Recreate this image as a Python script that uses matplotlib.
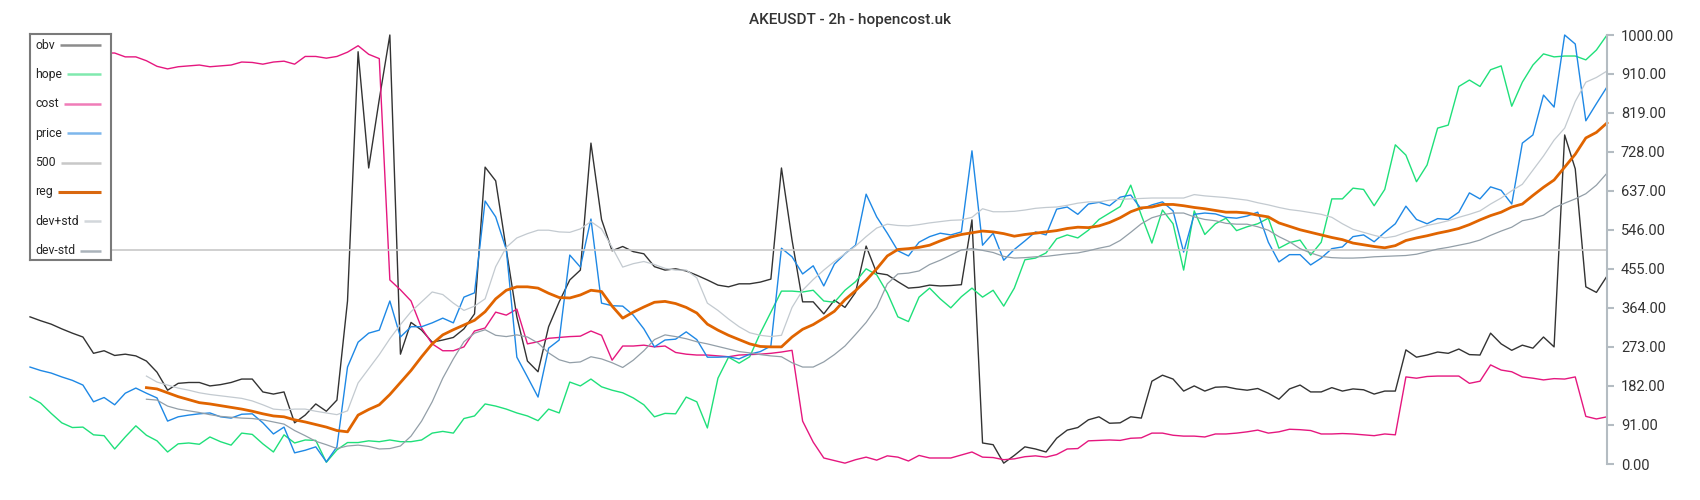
import numpy as np
import matplotlib
matplotlib.use('Agg')
import matplotlib.pyplot as plt

plt.rcParams['font.family'] = ['Roboto', 'DejaVu Sans']

# values, 0..1000 scale, 150 samples
obv = [343, 334, 326, 315, 305, 296, 258, 264, 253, 256,
       252, 240, 214, 172, 188, 190, 190, 182, 185, 190,
       198, 198, 168, 163, 168, 96, 114, 140, 123, 149,
       380, 961, 690, 850, 1000, 256, 330, 312, 284, 289,
       295, 315, 350, 692, 660, 500, 343, 240, 215, 320,
       378, 429, 452, 748, 570, 497, 507, 495, 490, 460,
       452, 455, 450, 440, 429, 417, 413, 420, 420, 424,
       431, 690, 522, 378, 378, 350, 382, 365, 400, 508,
       445, 441, 425, 410, 412, 417, 415, 416, 418, 569,
       49, 45, 2, 20, 40, 35, 28, 60, 79, 85,
       103, 110, 95, 96, 110, 107, 193, 207, 198, 170,
       182, 170, 179, 180, 175, 172, 176, 165, 151, 175,
       184, 168, 168, 178, 170, 175, 173, 163, 170, 170,
       266, 249, 254, 261, 258, 268, 255, 254, 305, 280,
       265, 277, 270, 296, 273, 767, 688, 413, 400, 438]

hope = [156, 142, 118, 96, 85, 86, 68, 66, 35, 63,
        89, 67, 54, 28, 47, 49, 46, 63, 52, 44,
        72, 69, 47, 28, 68, 49, 56, 55, 4, 33,
        50, 50, 54, 52, 56, 52, 52, 56, 72, 76,
        72, 106, 112, 140, 135, 128, 119, 112, 101, 128,
        119, 191, 182, 198, 180, 172, 166, 154, 138, 110,
        118, 117, 156, 145, 84, 200, 249, 235, 250, 305,
        354, 403, 403, 401, 405, 380, 377, 405, 425, 455,
        441, 399, 343, 332, 389, 410, 385, 364, 390, 410,
        389, 405, 368, 410, 476, 480, 492, 525, 534, 527,
        545, 570, 585, 600, 650, 580, 515, 592, 560, 452,
        590, 535, 560, 573, 544, 553, 560, 573, 503, 516,
        522, 487, 517, 618, 618, 643, 640, 602, 640, 744,
        720, 658, 697, 783, 790, 880, 895, 880, 919, 928,
        834, 890, 930, 956, 949, 951, 951, 942, 965, 1000]

cost = [955, 962, 958, 950, 955, 960, 952, 958, 958, 949,
        949, 940, 927, 921, 926, 928, 930, 926, 928, 930,
        937, 936, 932, 937, 939, 932, 950, 950, 946, 950,
        960, 975, 955, 945, 429, 406, 380, 317, 280, 264,
        264, 273, 310, 317, 354, 347, 361, 280, 285, 293,
        295, 297, 298, 310, 300, 242, 275, 275, 277, 273,
        275, 260, 256, 254, 254, 252, 250, 254, 255, 256,
        258, 261, 265, 100, 51, 14, 8, 2, 10, 16,
        9, 19, 16, 7, 20, 14, 14, 14, 21, 28,
        16, 15, 10, 12, 17, 19, 16, 22, 35, 36,
        54, 55, 56, 55, 60, 61, 72, 72, 67, 65,
        65, 63, 70, 70, 72, 75, 79, 72, 75, 81,
        80, 78, 70, 70, 71, 70, 68, 66, 70, 68,
        203, 200, 204, 205, 205, 205, 188, 193, 231, 219,
        215, 203, 200, 196, 199, 198, 203, 111, 105, 110]

price = [226, 218, 212, 203, 195, 184, 145, 155, 138, 165,
         177, 165, 154, 100, 110, 114, 117, 119, 110, 107,
         116, 117, 96, 70, 86, 26, 32, 40, 5, 40,
         226, 284, 305, 312, 380, 296, 320, 320, 329, 340,
         329, 389, 399, 613, 576, 500, 249, 203, 156, 270,
         289, 487, 459, 571, 375, 369, 368, 347, 315, 273,
         289, 291, 308, 290, 249, 249, 250, 245, 256, 262,
         275, 503, 483, 443, 462, 415, 466, 490, 510, 629,
         576, 538, 497, 485, 517, 530, 538, 534, 541, 730,
         510, 538, 475, 500, 520, 541, 534, 594, 599, 582,
         606, 610, 602, 622, 627, 594, 604, 611, 590, 494,
         582, 585, 583, 575, 573, 578, 587, 517, 471, 488,
         488, 464, 480, 502, 506, 530, 534, 518, 540, 560,
         601, 570, 560, 572, 570, 587, 632, 618, 646, 638,
         606, 748, 767, 860, 832, 1000, 979, 800, 840, 879]

level = 500

reg = [None] * 11 + [
    178, 175, 166, 157, 150, 143, 140, 136, 132,
    128, 123, 117, 112, 110, 103, 98, 92, 86, 78,
    75, 114, 127, 138, 162, 190, 218, 250, 280, 301,
    313, 324, 335, 355, 385, 405, 413, 413, 410, 398,
    388, 387, 394, 405, 402, 368, 340, 354, 366, 377,
    379, 374, 365, 352, 326, 312, 300, 290, 280, 274,
    273, 273, 296, 314, 325, 340, 356, 383, 404, 428,
    455, 485, 500, 502, 505, 510, 520, 529, 535, 539,
    543, 541, 537, 531, 535, 538, 541, 544, 549, 552,
    551, 555, 563, 574, 588, 597, 599, 605, 605, 602,
    598, 595, 591, 587, 587, 585, 580, 576, 562, 554,
    546, 540, 534, 528, 523, 515, 511, 507, 504, 509,
    521, 527, 532, 538, 543, 549, 558, 569, 579, 587,
    599, 606, 626, 645, 662, 692, 722, 760, 773, 795]

dev_plus = [None] * 11 + [
    205, 191, 184, 177, 172, 166, 162, 159, 156,
    153, 147, 138, 128, 126, 128, 128, 123, 119, 115,
    124, 189, 222, 255, 292, 325, 355, 378, 401, 395,
    375, 358, 368, 385, 460, 505, 527, 537, 545, 545,
    541, 540, 548, 565, 548, 505, 459, 467, 472, 465,
    456, 452, 452, 434, 375, 358, 338, 320, 306, 300,
    297, 300, 365, 405, 430, 452, 472, 490, 508, 530,
    550, 559, 556, 555, 558, 562, 565, 568, 569, 575,
    595, 588, 588, 589, 592, 596, 598, 599, 603, 608,
    611, 611, 615, 617, 618, 619, 620, 620, 620, 620,
    628, 625, 623, 621, 618, 615, 609, 604, 598, 593,
    590, 586, 582, 575, 560, 547, 540, 533, 527, 531,
    540, 548, 556, 561, 567, 575, 582, 590, 606, 620,
    637, 652, 685, 718, 755, 783, 845, 890, 901, 916]

dev_minus = [None] * 11 + [
    151, 149, 135, 128, 124, 120, 115, 111, 109,
    107, 106, 103, 98, 93, 78, 66, 53, 45, 36,
    42, 44, 41, 35, 36, 42, 65, 100, 145, 200,
    245, 285, 305, 313, 300, 297, 301, 296, 282, 259,
    243, 236, 238, 250, 245, 236, 225, 242, 264, 290,
    301, 297, 292, 285, 280, 274, 268, 262, 259, 255,
    252, 250, 236, 226, 226, 238, 255, 275, 302, 330,
    365, 420, 443, 445, 450, 465, 475, 487, 499, 502,
    498, 493, 484, 480, 481, 483, 484, 487, 490, 492,
    497, 503, 508, 521, 540, 560, 574, 581, 585, 585,
    576, 570, 567, 561, 559, 559, 553, 545, 530, 518,
    502, 492, 484, 481, 480, 480, 481, 483, 484, 485,
    486, 489, 495, 501, 505, 510, 515, 522, 533, 543,
    552, 567, 572, 580, 597, 608, 618, 630, 650, 678]

y_ticks = [0, 91, 182, 273, 364, 455, 546, 637, 728, 819, 910, 1000]

n = len(obv)
x = np.arange(n)

# label, values, line colour, legend colour, width
series = [
    ('obv', obv, '#333333', '#8c8c8c', 1.0),
    ('hope', hope, '#1fe07a', '#80e9ae', 1.0),
    ('cost', cost, '#e5177f', '#f07cb8', 1.0),
    ('price', price, '#1e88e5', '#7db7ec', 1.0),
    ('500', [level] * n, '#c8c8c8', '#c8c8c8', 1.2),
    ('reg', reg, '#e06400', '#d9680f', 2.0),
    ('dev+std', dev_plus, '#c3cad0', '#d2d7db', 0.9),
    ('dev-std', dev_minus, '#939fa8', '#aab3ba', 0.9),
]

fig = plt.figure(figsize=(17, 5), dpi=100)
ax = fig.add_axes([30 / 1700, 36 / 500, 1577 / 1700, 429 / 500])

for label, vals, col, _, lw in series:
    ax.plot(x, np.array(vals, dtype=float), color=col, lw=lw, clip_on=False)

ax.set_xlim(0, n - 1)
ax.set_ylim(0, 1000)
for s in ['top', 'left', 'bottom']:
    ax.spines[s].set_visible(False)
ax.spines['right'].set_color('#b4bcc2')
ax.spines['right'].set_linewidth(1.5)
ax.yaxis.tick_right()
ax.set_yticks(y_ticks)
ax.set_yticklabels(['%.2f' % v for v in y_ticks])
ax.tick_params(axis='y', length=5, width=1.5, color='#b4bcc2',
               labelsize=10.5, labelcolor='#333333', pad=5)
ax.set_xticks([])

fig.text(0.5, 1 - 20 / 500, 'AKEUSDT - 2h - hopencost.uk', ha='center', va='center',
         fontsize=11, fontweight='medium', color='#333333')

# legend box drawn by hand: labels left, sample lines to the right
lax = fig.add_axes([30 / 1700, (500 - 260) / 500, 81 / 1700, 226 / 500])
lax.set_zorder(5)
lax.set_xlim(0, 81)
lax.set_ylim(226, 0)
lax.set_xticks([])
lax.set_yticks([])
for s in lax.spines.values():
    s.set_color('#7a7a7a')
    s.set_linewidth(1.5)

fig.canvas.draw()
renderer = fig.canvas.get_renderer()
inv = lax.transData.inverted()
for k, (label, vals, col, lcol, lw) in enumerate(series):
    yy = 11 + k * 29.4
    t = lax.text(5, yy, label, fontsize=8.8, color='#262626', va='center', ha='left')
    bb = t.get_window_extent(renderer=renderer)
    x_end = inv.transform((bb.x1, bb.y0))[0]
    lax.plot([x_end + 5, 71], [yy, yy], color=lcol, lw=2.2 if label == 'reg' else 1.8,
             solid_capstyle='butt')

fig.savefig('out.png', dpi=100)
